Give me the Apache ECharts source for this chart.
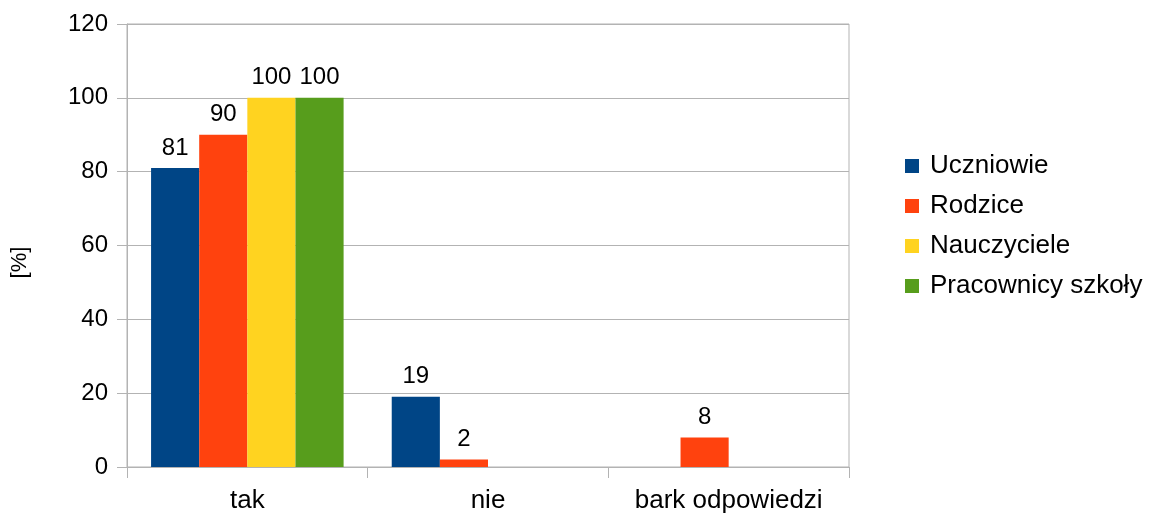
<!DOCTYPE html>
<html>
<head>
<meta charset="utf-8">
<script src="https://cdn.jsdelivr.net/npm/echarts@6/dist/echarts.min.js"></script>
<style>
  html, body { margin: 0; padding: 0; background: #fff; }
  #chart { width: 1150px; height: 517px; }
</style>
</head>
<body>
<div id="chart"></div>
<script>
  // dane z wykresu
  const categories = ["tak", "nie", "bark odpowiedzi"]
  const uczniowie = [81, 19, null]
  const rodzice = [90, 2, 8]
  const nauczyciele = [100, null, null]
  const pracownicy = [100, null, null]
  const yTicks = [0, 20, 40, 60, 80, 100, 120]

  const font = "Liberation Sans, Arial, sans-serif"
  const grey = "#b3b3b3"

  function bar(name, data, color) {
    return {
      name: name,
      type: "bar",
      data: data,
      barGap: "0%",
      barCategoryGap: "20%",
      itemStyle: { color: color },
      label: {
        show: true,
        position: "top",
        distance: 8,
        color: "#000",
        fontFamily: font,
        fontSize: 24,
      },
    }
  }

  const chart = echarts.init(document.getElementById("chart"))
  chart.setOption({
    backgroundColor: "#fff",
    animation: false,
    grid: {
      left: 127,
      right: 301,
      top: 24,
      bottom: 50,
      outerBoundsMode: "none",
      containLabel: false,
      show: true,
      borderColor: grey,
      borderWidth: 1,
    },
    legend: {
      orient: "vertical",
      left: 900,
      top: 148,
      itemWidth: 14,
      itemHeight: 14,
      itemGap: 14,
      icon: "rect",
      textStyle: {
        color: "#000",
        fontFamily: font,
        fontSize: 26,
        lineHeight: 26,
        padding: [0, 0, 0, 6],
      },
    },
    xAxis: {
      type: "category",
      data: categories,
      axisLine: { lineStyle: { color: grey } },
      axisTick: { show: true, interval: 0, length: 11, lineStyle: { color: grey } },
      axisLabel: { interval: 0, color: "#000", fontFamily: font, fontSize: 26, margin: 21 },
    },
    yAxis: {
      type: "value",
      min: yTicks[0],
      max: yTicks[yTicks.length - 1],
      interval: 20,
      name: "[%]",
      nameLocation: "middle",
      nameGap: 96,
      nameRotate: 90,
      nameTextStyle: { color: "#000", fontFamily: font, fontSize: 22, padding: [0, 34, 0, 0] },
      axisLine: { show: true, lineStyle: { color: grey } },
      axisTick: { show: true, length: 10, lineStyle: { color: grey } },
      splitLine: { show: true, lineStyle: { color: grey } },
      axisLabel: { color: "#000", fontFamily: font, fontSize: 24, margin: 19 },
    },
    series: [
      bar("Uczniowie", uczniowie, "#004586"),
      bar("Rodzice", rodzice, "#ff420e"),
      bar("Nauczyciele", nauczyciele, "#ffd320"),
      bar("Pracownicy szkoły", pracownicy, "#579d1c"),
    ],
  })
</script>
</body>
</html>
